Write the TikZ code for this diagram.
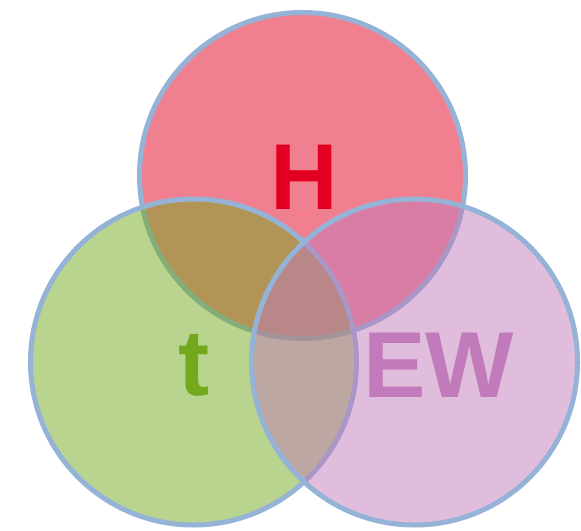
\documentclass[tikz,border=0pt]{standalone}
\usepackage{fontspec}
\setmainfont{Liberation Sans}
\definecolor{ringblue}{RGB}{149,179,215}
\definecolor{hred}{RGB}{226,0,34}
\definecolor{tgreen}{RGB}{115,170,29}
\definecolor{ewpink}{RGB}{193,123,186}
\begin{document}
\begin{tikzpicture}[x=1bp,y=-1bp,
  venn/.style={circle, draw=ringblue, line width=5bp, inner sep=0pt, minimum size=326bp, fill opacity=0.5},
  lbl/.style={anchor=base, inner sep=0pt, font=\fontsize{94}{94}\selectfont\bfseries}]
\useasboundingbox (0,0) rectangle (581,531);
\node[venn, fill=hred] (top) at (302.5,175.5) {};
\node[venn, fill=tgreen] (left) at (193.5,362) {};
\node[venn, fill=ewpink] (right) at (414.5,362) {};
\node[lbl, text=hred] (h) at (304,210) {H};
\node[lbl, text=tgreen] (t) at (194,395) {t};
\node[lbl, text=ewpink] (ew) at (438.5,397) {EW};
\end{tikzpicture}
\end{document}
